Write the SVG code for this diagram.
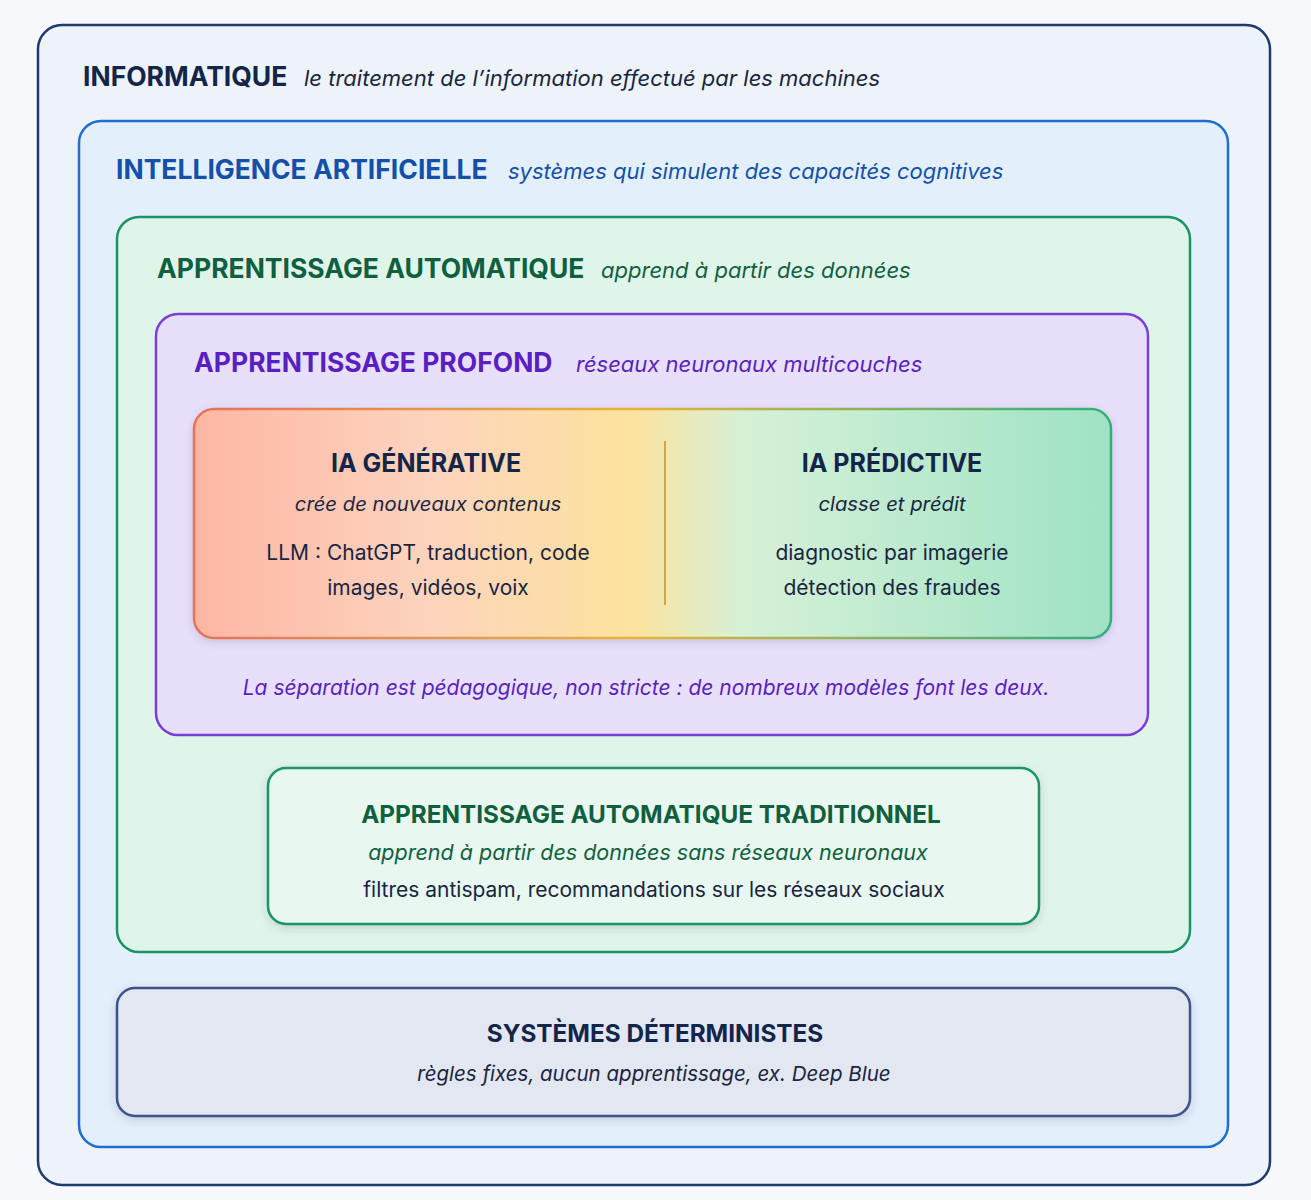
<svg xmlns="http://www.w3.org/2000/svg" width="1311" height="1200" viewBox="0 0 1311 1200">
<style>
text{font-family:Inter,"Noto Sans","Liberation Sans",sans-serif}
.t{font-weight:700;font-size:25px}
.h{font-weight:700;font-size:26.5px}
.s{font-style:italic;font-size:21px}
.hs{font-style:italic;font-size:22px}
.n{font-size:21px;fill:#1a2540}
.c{text-anchor:middle}
</style>
<defs>
<linearGradient id="g" x1="0" x2="1" y1="0" y2="0">
<stop offset="0" stop-color="#fdb6a4"/><stop offset="0.25" stop-color="#fdd3be"/><stop offset="0.48" stop-color="#fce39e"/><stop offset="0.6" stop-color="#d6f1d8"/><stop offset="1" stop-color="#9fe2c4"/>
</linearGradient>
<linearGradient id="gs" x1="0" x2="1" y1="0" y2="0">
<stop offset="0" stop-color="#e5735a"/><stop offset="0.48" stop-color="#e8b33a"/><stop offset="1" stop-color="#2fb07d"/>
</linearGradient>
<filter id="sh" x="-5%" y="-5%" width="110%" height="120%"><feDropShadow dx="0" dy="3" stdDeviation="4" flood-color="#3a3a6a" flood-opacity="0.18"/></filter>
</defs>
<rect width="1311" height="1200" fill="#f6f8fc"/>
<g id="informatique">
<rect x="38" y="25" width="1232" height="1160" rx="24" fill="#eef3fa" stroke="#1e3a6e" stroke-width="2.5"/>
<text x="83" y="86" class="h" fill="#14254a">INFORMATIQUE</text>
<text x="304" y="86" class="hs" fill="#1a2540">le traitement de l’information effectué par les machines</text>
</g>
<g id="ia">
<rect x="79" y="121" width="1149" height="1026" rx="22" fill="#e3effa" stroke="#1e6fd0" stroke-width="2.5"/>
<text x="116" y="179" class="h" fill="#1450a8">INTELLIGENCE ARTIFICIELLE</text>
<text x="508" y="179" class="hs" fill="#1450a8">systèmes qui simulent des capacités cognitives</text>
</g>
<g id="aa">
<rect x="117" y="217" width="1073" height="735" rx="22" fill="#e0f5ea" stroke="#1a9464" stroke-width="2.5"/>
<text x="157" y="278" class="h" fill="#106040">APPRENTISSAGE AUTOMATIQUE</text>
<text x="601" y="278" class="hs" fill="#106040">apprend à partir des données</text>
</g>
<g id="ap">
<rect x="156" y="314" width="992" height="421" rx="22" fill="#e8e0fa" stroke="#7b3fd6" stroke-width="2.5"/>
<text x="194" y="372" class="h" fill="#5a1fc0">APPRENTISSAGE PROFOND</text>
<text x="576" y="372" class="hs" fill="#5a1fc0">réseaux neuronaux multicouches</text>
<text x="646" y="695" class="s c" fill="#5a1fc0">La séparation est pédagogique, non stricte : de nombreux modèles font les deux.</text>
</g>
<g id="gen-pred">
<rect x="194" y="409" width="917" height="229" rx="20" fill="url(#g)" stroke="url(#gs)" stroke-width="2.5" filter="url(#sh)"/>
<line x1="665" y1="441" x2="665" y2="605" stroke="#c8a850" stroke-width="2"/>
<text x="426" y="472" class="t c" fill="#14254a">IA GÉNÉRATIVE</text>
<text x="428" y="511" class="c" style="font-style:italic;font-size:20.3px" fill="#1a2540">crée de nouveaux contenus</text>
<text x="428" y="560" class="n c">LLM : ChatGPT, traduction, code</text>
<text x="428" y="595" class="n c">images, vidéos, voix</text>
<text x="892" y="472" class="t c" fill="#14254a">IA PRÉDICTIVE</text>
<text x="892" y="511" class="c" style="font-style:italic;font-size:20.3px" fill="#1a2540">classe et prédit</text>
<text x="892" y="560" class="n c">diagnostic par imagerie</text>
<text x="892" y="595" class="n c">détection des fraudes</text>
</g>
<g id="trad">
<rect x="268" y="768" width="771" height="156" rx="18" fill="#e8f8f0" stroke="#1a9464" stroke-width="2.5" filter="url(#sh)"/>
<text x="651" y="823" class="c" style="font-weight:700;font-size:24.3px" fill="#106040">APPRENTISSAGE AUTOMATIQUE TRADITIONNEL</text>
<text x="648" y="860" class="c" style="font-style:italic;font-size:21.5px" fill="#106040">apprend à partir des données sans réseaux neuronaux</text>
<text x="654" y="897" class="n c">filtres antispam, recommandations sur les réseaux sociaux</text>
</g>
<g id="det">
<rect x="117" y="988" width="1073" height="128" rx="18" fill="#e3e7f1" stroke="#3d5585" stroke-width="2.5" filter="url(#sh)"/>
<text x="655" y="1042" class="c" style="font-weight:700;font-size:24.3px" fill="#14254a">SYSTÈMES DÉTERMINISTES</text>
<text x="654" y="1081" class="c" style="font-style:italic;font-size:20.5px" fill="#1a2540">règles fixes, aucun apprentissage, ex. Deep Blue</text>
</g>
<g id="connectors"/>
</svg>
